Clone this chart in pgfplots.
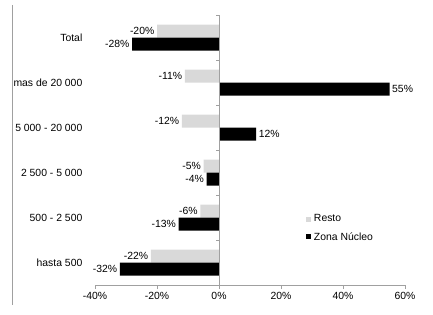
\documentclass[border=0pt]{standalone}
\usepackage{fontspec}
\setmainfont{Liberation Sans}
\usepackage{pgfplots}
\pgfplotsset{compat=1.18}
\definecolor{resto}{RGB}{217,217,217}
\definecolor{axgray}{RGB}{160,160,160}
\begin{document}
\fontsize{10.4}{12.5}\selectfont
\begin{tikzpicture}
\begin{axis}[
  at={(0,0)}, anchor=south west,
  scale only axis, width=310pt, height=270pt,
  xmin=-40, xmax=60, ymin=-0.5, ymax=5.5,
  xbar, bar width=13pt,
  axis x line*=bottom, axis y line*=left,
  y axis line style={draw=none},
  x axis line style={draw=axgray, -},
  xtick={-40,-20,...,60},
  xtick style={draw=axgray},
  tick align=outside, major tick length=4pt,
  /pgf/number format/assume math mode=true,
  xticklabel={\pgfmathprintnumber{\tick}\%},
  ytick={0,...,5},
  ytick style={draw=none},
  yticklabels={hasta 500, 500 - 2 500, 2 500 - 5 000, 5 000 - 20 000, mas de 20 000, Total},
  yticklabel style={xshift=-5pt},
  tick label style={font=\fontsize{10.4}{12.5}\selectfont},
  nodes near coords={\pgfmathprintnumber{\pgfplotspointmeta}\%},
  nodes near coords align={horizontal},
  every node near coord/.append style={font=\fontsize{10.4}{12.5}\selectfont, inner sep=2.5pt},
  point meta=x,
  legend style={at={(rel axis cs:0.68,0.265)}, anchor=north west, draw=none, fill=none,
    inner sep=0pt, row sep=7pt, column sep=2pt, font=\fontsize{10.4}{12.5}\selectfont,
    nodes={inner sep=1pt}},
  legend cell align=left,
  legend image code/.code={\fill[#1, draw=none] (0pt,-2.5pt) rectangle (5pt,2.5pt);},
  clip=false,
]
\addplot[fill=resto, draw=none, bar shift=6.5pt] coordinates {
  (-20,5) (-11,4) (-12,3) (-5,2) (-6,1) (-22,0)
};
\addlegendentry{Resto}
\addplot[fill=black, draw=none, bar shift=-6.5pt] coordinates {
  (-28,5) (55,4) (12,3) (-4,2) (-13,1) (-32,0)
};
\addlegendentry{Zona Núcleo}
\draw[axgray] (axis cs:0,-0.5) -- (axis cs:0,5.5);
\pgfplotsinvokeforeach{-0.5,0.5,1.5,2.5,3.5,4.5,5.5}{
  \draw[axgray] (axis cs:0,#1) -- ++(-3pt,0pt);
}
\end{axis}
\draw[axgray] (-83pt,280pt) -- (-83pt,-20pt);
\pgfresetboundingbox
\path[use as bounding box] (-95pt,-29pt) rectangle (338pt,285pt);
\end{tikzpicture}
\end{document}
